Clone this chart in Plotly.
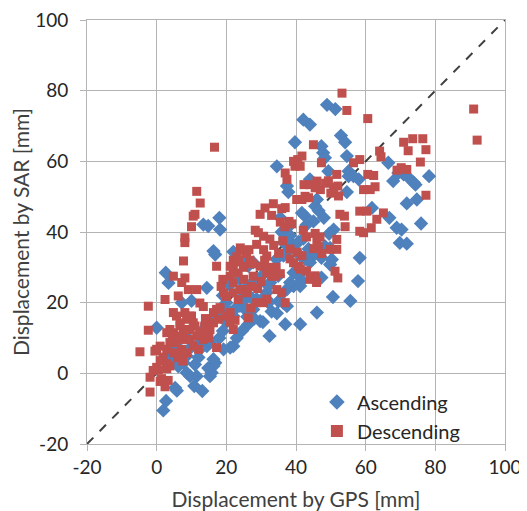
import plotly.graph_objects as go

# Ascending (GPS, SAR)
asc_x = [48.9, 51.3, 42.1, 44, 39.7, 52.9, 54.1, 54.6, 55.1, 47.3, 47.8, 48.3, 49.3, 34.5, 37.8, 37.4, 44, 45.5, 46,
         41.7, 42.6, 54.6, 55.1, 56.5, 58, 66.5, 67.9, 69.4, 70.9, 72.3, 73.8, 74.3, 78.2, 71.8, 74.7, 75.9, 66.8,
         68.9, 70.3, 69.8, 71.8, 61.8, 58.3, 57.8, 55.6, 50.6, 49.8, 50.3, 50.8, 49.5, 49.8, 47.3, 48.3, 47.3, 46,
         41.2, 36.9, 32.4, 29.7, 30.5, 26.3, 22, 21.1, 19.2, 18.2, 18, 16.3, 16.8, 13.4, 14.8, 14.4, 10, 7.2,
         2.6, 3.4, 0, 1.9, 2.7, 5.3, 5.8, 10.8, 13.1, 11.5, 9.6, 8.6, 15.3, 15.8, 16.3, 16.8, 16.3, 14.8,
         7.7, 7.2, 8.6, 4.8, 6.7, 5.7, 3.8, 3.4, 4.8, 6.2, 12.4, 14.4, 15.3, 12.4, 18.2, 17.7, 16.3, 14.4,
         22, 21.1, 22.9, 23.9, 24.9, 25.8, 27.7, 28.7, 30.2, 31.6, 32.1, 22, 23.4, 24.9, 26.3, 27.7,
         33.5, 34.9, 32.6, 34.4, 36.4, 38.3, 39.3, 40.7, 42.1, 39.3, 40.7, 41.7, 41.2, 39.3, 37.4, 38.3,
         36.4, 37.4, 35, 32.1, 31.6, 26.3, 28.2, 30.2, 25.3, 27.2, 23.9, 24.4, 35.9, 37.4, 36.9, 38.3, 35.5, 36.5,
         43.6, 45, 44, 42.6, 41.2, 11, 12, 10, 9, 13, 18, 19, 20, 23, 24.5, 26, 28, 20, 19, 33, 34.5, 21,
         45, 43, 48, 46.5]
asc_y = [76, 74.8, 71.8, 70.4, 65.4, 67.3, 65.4, 61.5, 57.2, 64.3, 62.4, 61, 57.2, 58.6, 51.3, 53, 54.9, 47.3, 49.2,
         45.4, 44.5, 51.3, 55.8, 55.8, 54.9, 59.6, 54.4, 56.7, 56.3, 55.4, 54, 53.4, 55.8, 48.1, 49.2, 42.4, 44,
         41.2, 40.7, 36.9, 36.7, 46.8, 32.7, 26.1, 20.5, 21.6, 30.8, 32.2, 40.7, 39.5, 35.5, 32.7, 36, 27.1, 17.2,
         13.9, 13.9, 10.6, 14.8, 14.5, 13.9, 7.7, 7.3, 6.8, 40.7, 44, 34.6, 33.6, 42.1, 41.7, 24.2, 20.5, 20,
         28.5, 25.6, 12.9, -10.5, -7.8, -4.1, -4.9, -3.6, -5, -0.8, -0.8, 0.2, -0.8, 0.2, 2.1, 3.0, 4, 1.5,
         3, 4.4, 4.9, 7.7, 6.8, 5.8, 6.3, 4.4, 3, 2, 6.8, 7.7, 8.7, 8.7, 18, 16.2, 15.3, 13.9,
         16.2, 17.2, 18.6, 19.1, 20.5, 17.7, 18.1, 21, 21, 22.9, 24.7, 34.4, 32.4, 31.4, 30.4, 31.4,
         29.5, 27.6, 25.7, 32.3, 33.3, 35.2, 36.2, 37.2, 38.1, 28.5, 27.6, 26.2, 24.7, 24.7, 23.8, 25.7,
         19.9, 19, 20.4, 20, 21, 24.7, 25.7, 27.6, 22.8, 21.4, 26.6, 23.3, 40, 41, 38.1, 39, 44, 37,
         35.2, 33.3, 31.4, 32.3, 33.3, 2.5, 4.5, 7.5, 10, 12, 10, 12, 14.5, 10, 12, 16, 15.5, 20, 22, 17.5, 17, 25,
         43, 42, 44, 46]

# Descending (GPS, SAR)
desc_x = [91, 92, 53.2, 54.6, 60.6, 16.6, 70.9, 73.5, 76.4, 72.2, 77.3, 75.7, 77.3, 70.2, 71.8, 69,
          64, 64.4, 60.6, 62.3, 62.7, 61.3, 59.4, 56.5, 58.3, 65.1, 63.2, 61.6, 58.3, 60.3, 58.3, 59.4,
          54.1, 53.9, 52.6, 51.7, 51.7, 51.2, 52, 49.8, 47, 49.3, 50.8, 51.7, 52, 52.2, 48.5, 50,
          47.3, 45, 39.3, 40.5, 41.7, 39.7, 41.2, 36.9, 37.4, 40.2, 41.7, 42.6, 43.6, 45.5, 46, 42.3, 44,
          29.7, 31.1, 33.5, 35.9, 36.9, 33, 35.5, 38, 36.8, 38.8, 28.3, 29.2, 30.7, 28.7, 30.7, 31.6, 32.5,
          33.6, 35, 36.2, 34.3, 35.5, 34, 39.3, 40.7, 41.2, 41.7, 40.3, 38.3, 38.3, 42.1, 43, 45.5, 46,
          45, 46.9, 46.4, 47.4, 44, 45.9, 45.5, 43, 29.7, 31.6, 33, 34.5, 35.9, 36.9, 28.7, 30.7, 31.6, 26.3,
          22, 23, 24.4, 25.8, 26.8, 24.9, 23.4, 22, 21.1, 21.1, 22, 23.9, 25.8, 27.2, 27.7, 25,
          19, 18.5, 17.2, 20.1, 22, 23.4, 24.9, 19.2, 20.1, 22, 20.1, 21.1, 16.3, 17.2, 18.2,
          14.4, 16.3, 17.7, 15.3, 10.5, 11.5, 12.4, 13.4, 12, 8.6, 9.6, 6.7, 5.7, 4.8, 8.1, 10, 11, 13.8,
          17.2, 11.5, 12.5, 10.5, 11, 10, 8.1, 8.1, 7.7, 4.8, 8.1, 7.2, 6.2, 9.1, 11.5, 12.4, 13.4,
          2.4, -2.4, -2.4, -4.8, 0, -0.5, 1, -1.9, -1, 0, 1, 1.9, 2.9, 2.9, 1.4, 2.4, 1, -1.9, 3.8, 3.3, 0.5,
          2.9, 3.8, 4.8, 5.7, 6.7, 5.3, 3.8, 2.9, 4.8, 7.7, 9.6, 7.2, 8.6, 8.6, 7.7, 6.7, 9.6, 10.5,
          6, 7.5, 4.5, 13, 15, 14, 25, 26.5, 24, 27.5, 23.5, 29, 30, 31, 32, 27, 22.5, 21]
desc_y = [74.8, 66, 79.3, 74.4, 72.1, 64, 65.4, 66.4, 66.4, 63, 63.3, 59.8, 50.4, 58.2, 57.7, 57.5,
          62.9, 61.3, 56.3, 56, 52.8, 52, 52, 59.6, 60.5, 45.4, 43.6, 41.2, 45.9, 45.9, 40.2, 39.8,
          41.5, 44.5, 45, 37.9, 35.1, 28.9, 27, 35.1, 52, 54.5, 52.6, 56.3, 53, 50.2, 53.8, 51,
          59.6, 64.7, 60, 60.5, 61.5, 58.6, 58.6, 56.7, 54.9, 49.2, 49.2, 50.1, 49.7, 52.5, 54.4, 53.4, 53.4,
          45, 46.8, 48, 46.6, 46.9, 44.7, 42.8, 43, 41.5, 42.3, 40.5, 39.8, 38.8, 36.5, 35, 33.2, 38,
          36.2, 34, 37.5, 30, 28.2, 27.5, 31.3, 30.3, 29.5, 33.3, 34.3, 35.2, 32.4, 40.5, 38.6, 39.6, 37.7,
          35.3, 38.6, 35.8, 33.9, 26.6, 25.7, 27.6, 29, 30.3, 28.4, 27.5, 23.7, 22.8, 20, 20, 20, 21, 15.7,
          32, 33, 34.8, 33.9, 32, 30.3, 28.4, 29.3, 30.3, 27.5, 25.6, 23.7, 22.8, 24.6, 27.5, 26.6,
          26.6, 24.6, 30.3, 21.8, 22.8, 20.9, 23.7, 22.8, 21.9, 12.4, 16.2, 17.2, 17.2, 18.1, 18.6,
          15.3, 14.3, 15.3, 12.4, 7.7, 10.6, 11.5, 9.6, 6.8, 15.3, 16.2, 14.3, 16.2, 17.2, 17.2, 16.2, 13.4, 13.4,
          7.3, 51.5, 48.2, 44.5, 45, 41.5, 38.4, 37, 31.8, 27.5, 27, 25.7, 21.9, 23.7, 23.7, 19.9, 18.9,
          20.9, 19, 12.2, 6.1, 6.8, 6.3, 7.7, -1.1, 0.8, 1.7, 3.6, 4.6, 2.7, 1.3, -1.5, -3.8, -2.3, -5.3, 2.1, -2, 1,
          11.5, 12.4, 11.5, 10.6, 9.6, 8.7, 8.7, 6.8, 5.8, 10.6, 9.6, 6.8, 5.8, 9.6, 12.4, 13.4, 12.4, 14.3,
          4.5, 3.5, 9.8, 11, 10, 15.5, 30, 35, 35.5, 31, 31.5, 24, 26, 32, 30, 18.5, 15, 14.5]

ticks = [-20, 0, 20, 40, 60, 80, 100]
tick_labels = ['-20', '0', '20', '40', '60', '80', '100']

fig = go.Figure()
fig.add_trace(go.Scatter(x=[-20, 100], y=[-20, 100], mode='lines', showlegend=False,
                         line=dict(color='#404040', width=2, dash='dash'), hoverinfo='skip'))
fig.add_trace(go.Scatter(x=asc_x, y=asc_y, mode='markers', name='Ascending',
                         marker=dict(symbol='diamond', size=11, color='#4F81BD')))
fig.add_trace(go.Scatter(x=desc_x, y=desc_y, mode='markers', name='Descending',
                         marker=dict(symbol='square', size=9, color='#C0504D')))

axis_style = dict(range=[-20, 100], tickvals=ticks, ticktext=tick_labels, automargin=False,
                  ticklabeloverflow='allow',
                  showgrid=True, gridcolor='#B4B4B4', gridwidth=1,
                  zeroline=False, showline=True, linecolor='#B4B4B4', mirror=True,
                  ticks='outside', ticklen=6, tickcolor='#B4B4B4',
                  tickfont=dict(family='Lato', size=19, color='#262626'))

fig.update_xaxes(**axis_style, title=dict(text='Displacement by GPS [mm]',
                 font=dict(family='Lato', size=21, color='#404040'), standoff=16))
fig.update_yaxes(**axis_style, ticklabelstandoff=8,
                 title=dict(text='Displacement by SAR [mm]',
                            font=dict(family='Lato', size=21, color='#404040'), standoff=6))

# page body adds an 8px offset, so the figure is shrunk to keep the plot area in place
fig.update_layout(width=519, height=503, margin=dict(l=79, r=22, t=12, b=67),
                  plot_bgcolor='white', paper_bgcolor='white',
                  legend=dict(x=0.55, y=0.145, xanchor='left', yanchor='top',
                              bgcolor='rgba(0,0,0,0)', font=dict(family='Lato', size=20, color='#262626'),
                              itemsizing='constant', tracegroupgap=0))
fig.write_html("out.html")
